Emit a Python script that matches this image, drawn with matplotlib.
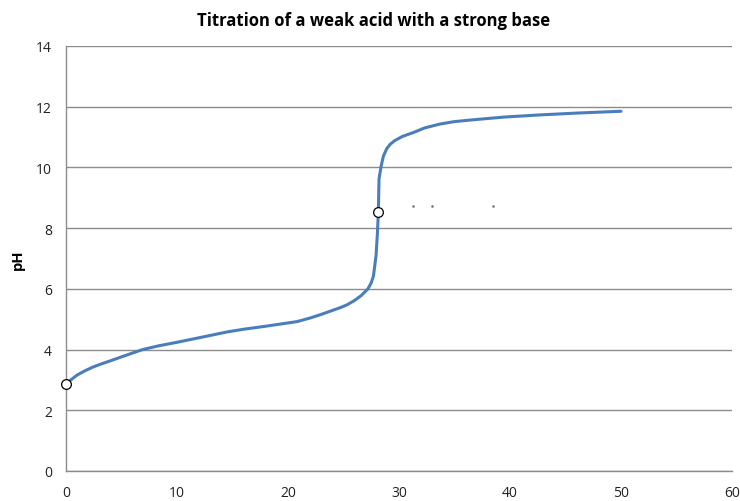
import numpy as np
import matplotlib
matplotlib.use("Agg")
import matplotlib.pyplot as plt

# volume of base added vs pH
volume = [0, 0.5, 1, 1.7, 2.4, 3.2, 4, 5, 6.9, 8.3, 10, 12, 14.5, 16, 18,
          20.8, 22, 23, 24.7, 25.3, 26, 26.6, 27.2, 27.5, 27.7, 27.93, 28.05,
          28.14, 28.2, 28.4, 28.6, 28.9, 29.2, 29.6, 30.3, 31.3, 32.3, 33.7,
          35, 36.7, 39.5, 42.7, 46, 50]
ph = [2.87, 3.02, 3.16, 3.3, 3.42, 3.53, 3.63, 3.76, 4.0, 4.12, 4.24, 4.39,
      4.58, 4.67, 4.77, 4.92, 5.04, 5.16, 5.38, 5.47, 5.62, 5.78, 6.0, 6.2,
      6.43, 7.09, 7.8, 8.52, 9.62, 10.06, 10.38, 10.62, 10.76, 10.88, 11.02,
      11.15, 11.3, 11.43, 11.51, 11.57, 11.66, 11.73, 11.79, 11.85]

# open circle markers (start and equivalence point)
mark_x = [0, 28.14]
mark_y = [2.87, 8.52]

# stray tiny dots
dot_x = [31.3, 33.0, 38.5]
dot_y = [8.73, 8.73, 8.73]

xticks = [0, 10, 20, 30, 40, 50, 60]
yticks = [0, 2, 4, 6, 8, 10, 12, 14]

plt.rcParams['font.family'] = ['Open Sans', 'DejaVu Sans']

fig = plt.figure(figsize=(7.4, 5.02), dpi=100)
ax = fig.add_axes([66 / 740, 30 / 502, 666 / 740, 425 / 502])

ax.plot(volume, ph, color="#4A7EBB", linewidth=2.2, solid_capstyle="round",
        solid_joinstyle="round", zorder=3)
ax.plot(mark_x, mark_y, "o", markersize=7, markerfacecolor="white",
        markeredgecolor="black", markeredgewidth=0.9, zorder=4, clip_on=False)
ax.plot(dot_x, dot_y, "s", markersize=0.8, color="#777777", zorder=4)

ax.set_xlim(0, 60)
ax.set_ylim(0, 14)
ax.set_xticks(xticks)
ax.set_yticks(yticks)
ax.grid(axis="y", color="#8c8c8c", linewidth=1)
ax.set_axisbelow(True)

for side in ["top", "right"]:
    ax.spines[side].set_visible(False)
for side in ["left", "bottom"]:
    ax.spines[side].set_color("#8c8c8c")
    ax.spines[side].set_linewidth(1)

ax.tick_params(length=0, labelsize=10, colors="#222222")
ax.tick_params(axis="x", pad=10)
ax.tick_params(axis="y", pad=10)

ax.set_ylabel("pH", fontsize=10.5, fontweight="bold")
ax.yaxis.set_label_coords(-0.062, 0.5)
fig.text(0.505, 0.958, "Titration of a weak acid with a strong base",
         ha="center", va="center", fontsize=12, fontweight="bold")

fig.savefig("out.png", dpi=100)
